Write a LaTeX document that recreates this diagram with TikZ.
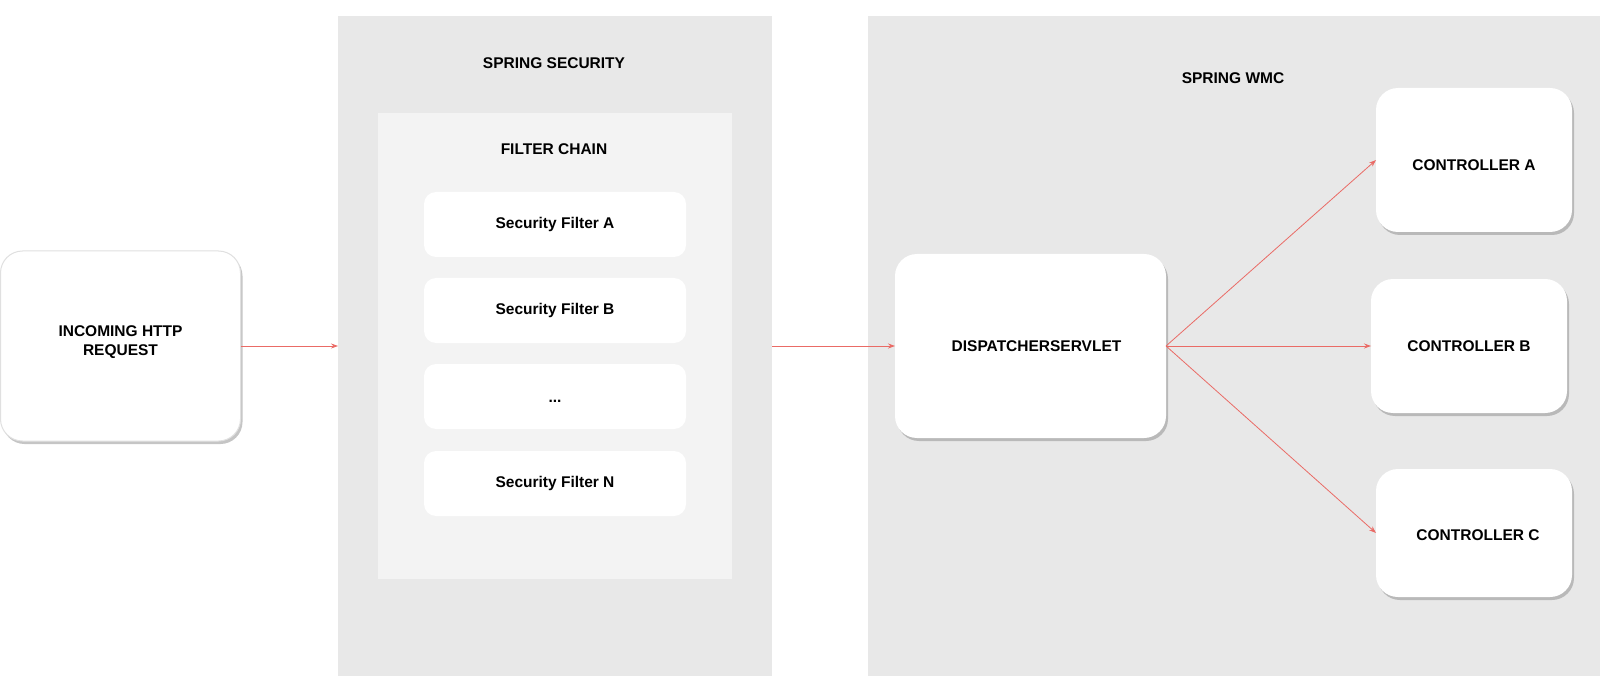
\documentclass[tikz,border=0pt]{standalone}
\usepackage{fontspec}
\setmainfont{Liberation Sans}
\usetikzlibrary{shadows,arrows.meta}
\definecolor{panelgray}{HTML}{E8E8E8}
\definecolor{chaingray}{HTML}{F3F3F3}
\definecolor{arrowred}{HTML}{EA6B66}
\begin{document}
\begin{tikzpicture}[x=1pt,y=-1pt,
  lbl/.style={font=\fontsize{15.5}{19.5}\selectfont\bfseries, align=center, text=black},
  panelbox/.style={fill=panelgray, inner sep=0pt, outer sep=0pt},
  chainbox/.style={fill=chaingray, inner sep=0pt, outer sep=0pt},
  bigbox/.style={fill=white, rounded corners=22pt, inner sep=0pt, outer sep=0pt, lbl,
    drop shadow={shadow xshift=2pt, shadow yshift=-3pt, fill=black!50, opacity=.45}},
  filterbox/.style={fill=white, rounded corners=12pt, minimum width=262pt, minimum height=65pt, inner sep=0pt, outer sep=0pt, lbl},
  conn/.style={draw=arrowred, line width=0.8pt, -{Stealth[length=7pt,width=5pt]}}
]
\fill[white] (0,0) rectangle (1600,676);
\useasboundingbox (0,0) rectangle (1600,676);

% panels
\node[panelbox, minimum width=434pt, minimum height=660pt] (sec) at (555,346) {};
\node[lbl] (sectitle) at (554,63) {SPRING SECURITY};
\node[chainbox, minimum width=354pt, minimum height=466pt] (chain) at (555,346) {};
\node[lbl] (chaintitle) at (554,149) {FILTER CHAIN};
\node[panelbox, minimum width=732pt, minimum height=660pt] (wmc) at (1234,346) {};
\node[lbl] (wmctitle) at (1233,78) {SPRING WMC};

% filters
\node[filterbox] (fa) at (555,224.5) {Security Filter A};
\node[filterbox] (fb) at (555,310.5) {Security Filter B};
\node[filterbox, label={[lbl,yshift=-5pt]center:...}] (fdots) at (555,396.5) {};
\node[filterbox] (fn) at (555,483.5) {Security Filter N};

% main boxes
\node[bigbox, draw=black!12, line width=1pt, minimum width=240pt, minimum height=190pt,
  label={[lbl,yshift=4pt]center:INCOMING HTTP\\REQUEST}] (incoming) at (120.5,346) {};
\node[bigbox, minimum width=271pt, minimum height=184pt] (disp) at (1030.5,346) {\hspace*{12pt}DISPATCHERSERVLET};
\node[bigbox, minimum width=196pt, minimum height=144pt,
  label={[lbl,yshift=-5pt]center:CONTROLLER A}] (ca) at (1474,160) {};
\node[bigbox, minimum width=196pt, minimum height=134pt] (cb) at (1469,346) {CONTROLLER B};
\node[bigbox, minimum width=196pt, minimum height=128pt,
  label={[lbl,yshift=-2pt,xshift=4pt]center:CONTROLLER C}] (cc) at (1474,533) {};

% connectors
\draw[conn] (incoming.east) -- (sec.west);
\draw[conn] (sec.east) -- (disp.west);
\draw[conn] (disp.east) -- (ca.west);
\draw[conn] (disp.east) -- (cb.west);
\draw[conn] (disp.east) -- (cc.west);
\end{tikzpicture}
\end{document}
